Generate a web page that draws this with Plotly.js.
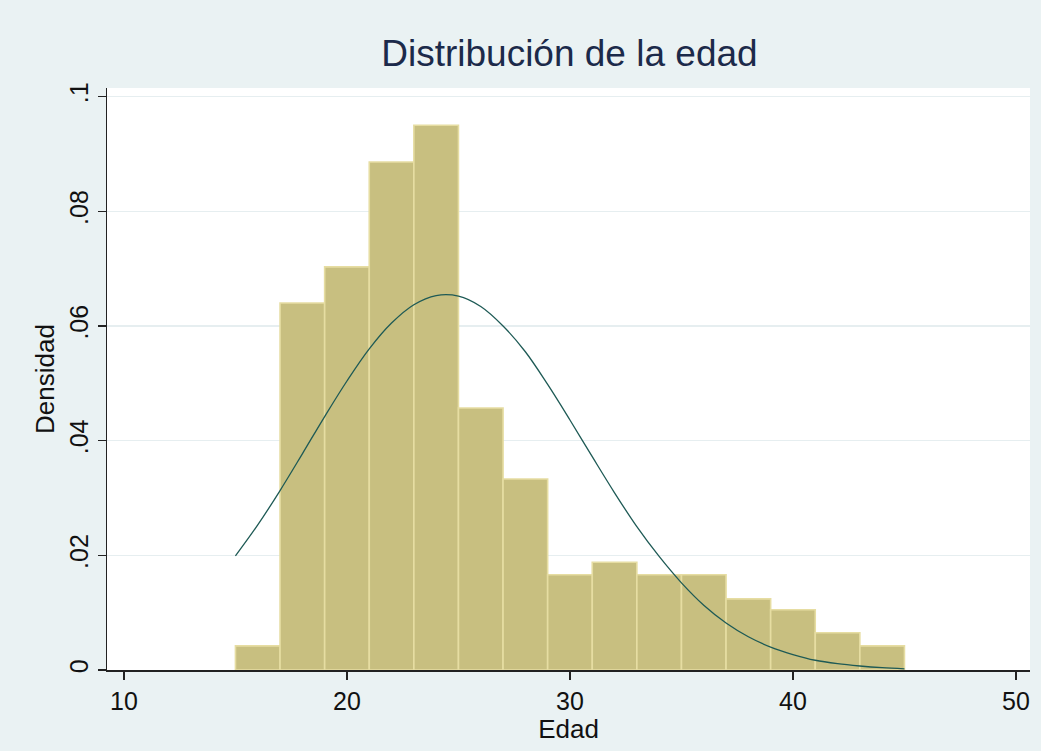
<!DOCTYPE html>
<html>
<head>
<meta charset="utf-8">
<script src="https://cdn.plot.ly/plotly-3.0.1.min.js"></script>
<style>html,body{margin:0;padding:0;background:#EAF2F3;}</style>
</head>
<body>
<div id="chart" style="width:1041px;height:751px;"></div>
<script>
// Histogram bins (age), width 2, and densities
const binStarts = [15, 17, 19, 21, 23, 25, 27, 29, 31, 33, 35, 37, 39, 41, 43];
const binWidth = 2;
const densities = [0.0042, 0.0640, 0.0703, 0.0886, 0.0950, 0.0457, 0.0333, 0.0166, 0.0188, 0.0166, 0.0166, 0.0124, 0.0105, 0.0065, 0.0042];

// Normal density overlay
const curveX = [15, 16, 17, 18, 19, 20, 21, 22, 23, 24, 25, 26, 27, 28, 29, 30, 31, 32, 33, 34, 35, 36, 37, 38, 39, 40, 41, 42, 43, 44, 45];
const curveY = [0.0199, 0.0253, 0.0313, 0.0377, 0.0442, 0.0504, 0.0560, 0.0605, 0.0637, 0.0653, 0.0652, 0.0634, 0.0600, 0.0555, 0.0498, 0.0436, 0.0372, 0.0309, 0.0250, 0.0198, 0.0152, 0.0113, 0.0082, 0.0058, 0.0040, 0.0027, 0.0017, 0.0011, 0.0007, 0.0004, 0.0002];

const xTicks = [10, 20, 30, 40, 50];
const yTicks = [0, 0.02, 0.04, 0.06, 0.08, 0.1];
const yTickLabels = ["0", ".02", ".04", ".06", ".08", ".1"];

const titleText = "Distribución de la edad";
const xTitle = "Edad";
const yTitle = "Densidad";

const barCenters = binStarts.map(s => s + binWidth / 2);

const traces = [
  {
    type: "bar",
    x: barCenters,
    y: densities,
    width: binWidth,
    marker: {color: "#C8BF80", line: {color: "#E6DDA2", width: 1.6}},
    hoverinfo: "x+y",
    showlegend: false
  },
  {
    type: "scatter",
    mode: "lines",
    x: curveX,
    y: curveY,
    line: {color: "#1E5A55", width: 1.3, shape: "spline"},
    showlegend: false
  }
];

const layout = {
  width: 1041,
  height: 751,
  paper_bgcolor: "#EAF2F3",
  plot_bgcolor: "#FFFFFF",
  margin: {l: 107, r: 11, t: 88, b: 81},
  font: {family: "Liberation Sans, Arial, sans-serif", color: "#1a1a1a"},
  title: {
    text: titleText,
    font: {size: 37, color: "#1C2A4A", family: "Liberation Sans, Arial, sans-serif"},
    x: 0.547, xanchor: "center",
    y: 0.93, yanchor: "middle"
  },
  bargap: 0,
  xaxis: {
    range: [9.24, 50.63],
    tickvals: xTicks,
    ticktext: xTicks.map(String),
    ticks: "outside",
    ticklen: 8,
    tickwidth: 1.2,
    tickcolor: "#222",
    showline: true,
    linecolor: "#222",
    linewidth: 1.5,
    showgrid: false,
    zeroline: false,
    tickfont: {size: 25, color: "#111"},
    title: {text: xTitle, font: {size: 26, color: "#111"}, standoff: 0}
  },
  yaxis: {
    range: [0, 0.1015],
    tickvals: yTicks,
    ticktext: yTickLabels,
    tickangle: -90,
    ticks: "outside",
    ticklen: 8,
    tickwidth: 1.2,
    tickcolor: "#222",
    showline: true,
    linecolor: "#222",
    linewidth: 1.5,
    showgrid: true,
    gridcolor: "#E6EEF0",
    gridwidth: 1.2,
    zeroline: false,
    tickfont: {size: 25, color: "#111"},
    title: {text: yTitle, font: {size: 26, color: "#111"}, standoff: 2}
  }
};

Plotly.newPlot("chart", traces, layout, {displayModeBar: false, staticPlot: true});
</script>
</body>
</html>
